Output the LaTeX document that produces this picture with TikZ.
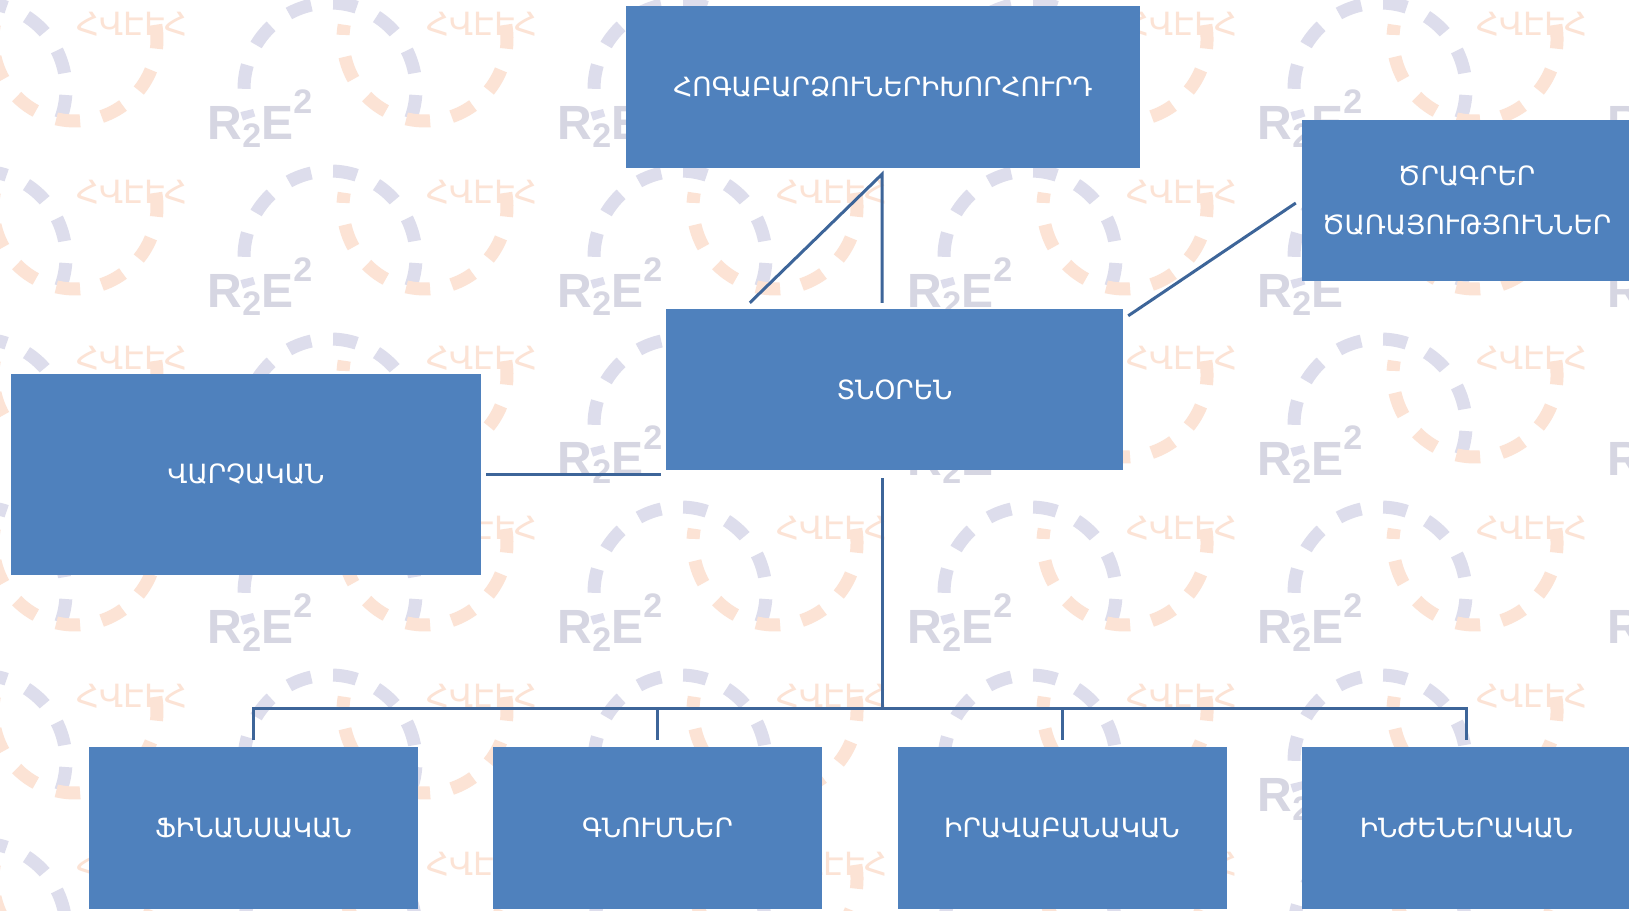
\documentclass[tikz,border=0pt]{standalone}
\usepackage{fontspec}
\setmainfont{DejaVu Sans}
\newfontfamily\wmfont{Liberation Sans}
\definecolor{boxblue}{HTML}{4F81BD}
\definecolor{linkblue}{HTML}{3D6599}
\definecolor{wmlav}{HTML}{DDDDEC}
\definecolor{wmorange}{HTML}{FCE3D5}
\definecolor{wmgray}{HTML}{D6D6E2}
\begin{document}
\begin{tikzpicture}[x=1pt,y=-1pt,
  orgbox/.style={fill=boxblue, text=white, inner sep=0pt, minimum height=162pt,
    align=center, font=\fontsize{26.5}{49}\selectfont},
  link/.style={draw=linkblue, line width=3pt},
  wmring/.style={line width=13pt, dash pattern=on 24pt off 22pt},
  wmlogo/.style={text=wmgray, inner sep=0pt, font=\wmfont\bfseries\fontsize{48}{48}\selectfont},
  wmarm/.style={text=wmorange, inner sep=0pt, font=\fontsize{32}{32}\selectfont}]
\useasboundingbox (0,0) rectangle (1629,910);
\clip (0,0) rectangle (1629,910);
\fill[white] (0,0) rectangle (1629,910);
% watermark rings
\foreach \i in {-1,...,4}{
  \foreach \j in {-1,...,5}{
    \begin{scope}[shift={(260+350*\i,119+168*\j)}]
      \draw[wmring, draw=wmlav] ([shift={(70,-30)}]20:86) arc[start angle=20, end angle=-200, radius=86];
      \draw[wmring, draw=wmorange] ([shift={(165,-80)}]-10:82) arc[start angle=-10, end angle=190, radius=82];
    \end{scope}
  }
}
% watermark texts
\foreach \x/\y [count=\k] in {260/119,610/119,1310/119,1660/119,
  260/287,610/287,960/287,1310/287,1660/287,
  610/455,960/455,1310/455,1660/455,
  260/623,610/623,960/623,1310/623,1660/623,
  1310/791,1660/791}{
  \node[wmlogo] (wmlogo\k) at (\x,\y) {R\raisebox{-0.35ex}{\fontsize{34}{34}\selectfont 2}E\raisebox{1.0ex}{\fontsize{34}{34}\selectfont 2}};
}
\foreach \x/\y [count=\k] in {132/24,482/24,1182/24,1532/24,
  132/192,482/192,832/192,1182/192,
  132/358,482/358,1182/358,1532/358,
  482/528,832/528,1182/528,1532/528,
  132/696,482/696,832/696,1182/696,1532/696,
  132/864,482/864,832/864,1182/864}{
  \node[wmarm] (wmarm\k) at (\x,\y) {ՀՎԷԷՀ};
}
% boxes
\node[orgbox, minimum width=514pt] (board) at (883,87) {ՀՈԳԱԲԱՐՁՈՒՆԵՐԻԽՈՐՀՈՒՐԴ};
\node[orgbox, minimum width=329pt, minimum height=161pt] (prog) at (1466.5,200.5) {ԾՐԱԳՐԵՐ\\ԾԱՌԱՅՈՒԹՅՈՒՆՆԵՐ};
\node[orgbox, minimum width=457pt, minimum height=161pt] (dir) at (894.5,389.5) {ՏՆՕՐԵՆ};
\node[orgbox, minimum width=470pt, minimum height=201pt] (admin) at (246,474.5) {ՎԱՐՉԱԿԱՆ};
\node[orgbox, minimum width=329pt] (fin) at (253.5,828) {ՖԻՆԱՆՍԱԿԱՆ};
\node[orgbox, minimum width=329pt] (buy) at (657.5,828) {ԳՆՈՒՄՆԵՐ};
\node[orgbox, minimum width=329pt] (law) at (1062,828) {ԻՐԱՎԱԲԱՆԱԿԱՆ};
\node[orgbox, minimum width=329pt] (eng) at (1466.5,828) {ԻՆԺԵՆԵՐԱԿԱՆ};
% connectors
\coordinate (apex) at ([xshift=-1pt,yshift=-6pt]board.south);
\coordinate (dtop) at ([yshift=6pt]dir.north);
\draw[link] ([xshift=84pt,yshift=6pt]dir.north west) -- (apex) -- (apex |- dtop);
\draw[link] ([xshift=5pt,yshift=-7pt]dir.north east) -- ([xshift=-6pt,yshift=-2.5pt]prog.west);
\path (dir.west |- admin.east) ++(-5,0) coordinate (lj);
\draw[link] ([xshift=5pt]admin.east) -- (lj);
\coordinate (tr1) at ([xshift=-12.5pt,yshift=-8pt]dir.south);
\coordinate (busL) at ([yshift=38pt]fin.north);
\coordinate (busR) at ([yshift=38pt]eng.north);
\draw[link] (tr1) -- (tr1 |- busL);
\draw[link] ([yshift=7pt]fin.north) -- (busL) -- (busR) -- ([yshift=7pt]eng.north);
\draw[link] ([yshift=7pt]buy.north) -- (buy.north |- busL);
\draw[link] ([yshift=7pt]law.north) -- (law.north |- busL);
\end{tikzpicture}
\end{document}
